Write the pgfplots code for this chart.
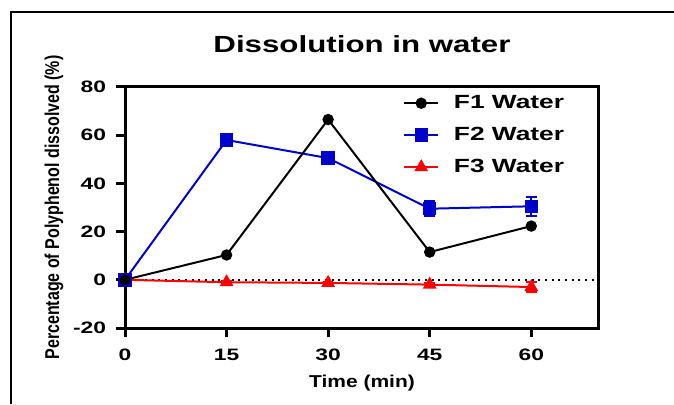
\documentclass[border=0pt]{standalone}
\usepackage{pgfplots}
\pgfplotsset{compat=1.18}
\usepackage{fontspec}
\setmainfont{Liberation Sans}
\newfontfamily\fwide{Liberation Sans}[FakeStretch=1.38]
\newfontfamily\ftitle{Liberation Sans}[FakeStretch=1.34]
\newfontfamily\fxlab{Liberation Sans}[FakeStretch=1.22]
\newfontfamily\fylab{Liberation Sans}[FakeStretch=0.8]
\definecolor{myblue}{RGB}{0,0,204}
\definecolor{myred}{RGB}{255,0,0}
\begin{document}
\begin{tikzpicture}
\useasboundingbox (0,0) rectangle (505.5pt,303pt);
\draw[line width=1.5pt] (8.25pt,0) -- (8.25pt,294pt) -- (505.5pt,294pt);
\begin{axis}[
  at={(93.75pt,57pt)}, anchor=south west,
  scale only axis, width=355.5pt, height=180.75pt,
  xmin=0, xmax=70, ymin=-20, ymax=80,
  xtick={0,15,30,45,60}, ytick={-20,0,20,40,60,80},
  axis line style={line width=2.25pt},
  every tick/.style={black, line width=2.25pt},
  tick align=outside, major tick length=7pt,
  xtick pos=bottom, ytick pos=left,
  /pgf/number format/assume math mode=true,
  tick label style={font=\fwide\bfseries\fontsize{12.4}{14}\selectfont, inner sep=0pt},
  x tick label style={anchor=base, yshift=-17pt},
  y tick label style={anchor=east, xshift=-7pt},
  title={Dissolution in water},
  every axis title shift=0pt,
  title style={font=\ftitle\bfseries\fontsize{17.5}{20}\selectfont, at={(axis description cs:0.5,1.1411)}, anchor=base, inner sep=0pt},
  xlabel={Time (min)},
  xlabel style={font=\fxlab\bfseries\fontsize{12.9}{15}\selectfont, at={(axis description cs:0.5,-0.2448)}, anchor=base, inner sep=0pt},
  ylabel={Percentage of Polyphenol dissolved (\%)},
  ylabel style={font=\fylab\bfseries\fontsize{15}{18}\selectfont, at={(axis description cs:-0.1392,0.5)}, anchor=base, inner sep=0pt},
  clip=false,
  legend style={draw=none, fill=none, at={(0.5865,0.985)}, anchor=north west,
    font=\fwide\bfseries\fontsize{14.3}{17}\selectfont, inner sep=0pt,
    row sep=5.5pt, column sep=9pt,
    nodes={inner sep=2pt, text height=11pt, text depth=3.5pt}},
  legend cell align=left,
  legend image code/.code={\draw[mark repeat=2,mark phase=2,#1] plot coordinates {(0pt,0pt) (12.75pt,0pt) (25.5pt,0pt)};},
  reverse legend,
]
\addplot[forget plot, black, line width=1.5pt, dash pattern=on 1.5pt off 3.5pt] coordinates {(0,0) (69.3,0)};
\addplot[myred, line width=1.5pt, mark=triangle*, mark size=4.5pt, mark options={solid},
  error bars/.cd, y dir=both, y explicit, error bar style={line width=1.5pt},
  error mark options={rotate=90, mark size=4pt, line width=1.5pt}]
  coordinates {(0,0) +- (0,0) (15,-1) +- (0,0.4) (30,-1.3) +- (0,0.4) (45,-2) +- (0,0.8) (60,-3) +- (0,2)};
\addlegendentry{F3 Water}
\addplot[myblue, line width=1.5pt, mark=square*, mark size=4.3pt, mark options={solid},
  error bars/.cd, y dir=both, y explicit, error bar style={line width=1.5pt},
  error mark options={rotate=90, mark size=4.3pt, line width=1.5pt}]
  coordinates {(0,0) +- (0,0) (15,58) +- (0,0.8) (30,50.5) +- (0,0.8) (45,29.5) +- (0,3) (60,30.5) +- (0,4)};
\addlegendentry{F2 Water}
\addplot[black, line width=1.5pt, mark=*, mark size=3.5pt, mark options={solid}]
  coordinates {(0,0) (15,10.3) (30,66.5) (45,11.5) (60,22.3)};
\addlegendentry{F1 Water}
\end{axis}
\end{tikzpicture}
\end{document}
